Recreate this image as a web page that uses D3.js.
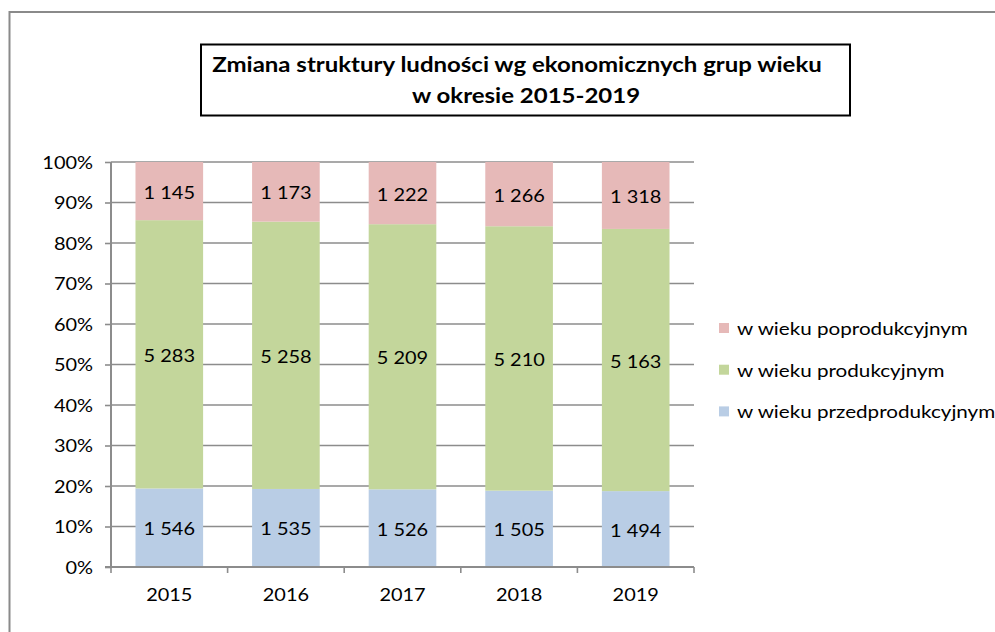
<!DOCTYPE html>
<html>
<head>
<meta charset="utf-8">
<script src="https://cdn.jsdelivr.net/npm/d3@7"></script>
<style>
  html, body { margin: 0; padding: 0; background: #fff; }
  svg { display: block; }
  text { font-family: Lato, "Open Sans", sans-serif; fill: #000; }
</style>
</head>
<body>
<svg id="chart" width="995" height="632"></svg>
<script>
const years = ["2015", "2016", "2017", "2018", "2019"];
const seriesNames = ["w wieku przedprodukcyjnym", "w wieku produkcyjnym", "w wieku poprodukcyjnym"];
const przedprodukcyjny = [1546, 1535, 1526, 1505, 1494];
const produkcyjny = [5283, 5258, 5209, 5210, 5163];
const poprodukcyjny = [1145, 1173, 1222, 1266, 1318];
const seriesColors = ["#B9CDE5", "#C3D69B", "#E6B9B8"];
const yTicks = [0, 0.1, 0.2, 0.3, 0.4, 0.5, 0.6, 0.7, 0.8, 0.9, 1.0];
const titleLines = ["Zmiana struktury ludności wg ekonomicznych grup wieku", "w okresie 2015-2019"];

(function () {
const svg = d3.select("#chart");
const fmt = v => d3.format(",")(v).replace(/,/g, " ");

// text helper: horizontally widened Lato to mimic the reference rendering
function addText(parent, x, y, str, opt) {
  const o = Object.assign({ size: 17.5, weight: "normal", anchor: "start", sx: 1.14 }, opt || {});
  return parent.append("text")
    .attr("transform", `translate(${x},${y}) scale(${o.sx},1)`)
    .attr("text-anchor", o.anchor)
    .attr("font-size", o.size)
    .attr("font-weight", o.weight)
    .text(str);
}

// outer frame
svg.append("rect").attr("x", 9.5).attr("y", 12).attr("width", 1100).attr("height", 700)
  .attr("fill", "none").attr("stroke", "#8a8a8a").attr("stroke-width", 2);

// title
svg.append("rect").attr("x", 201).attr("y", 44.5).attr("width", 649).attr("height", 71)
  .attr("fill", "#fff").attr("stroke", "#000").attr("stroke-width", 2);
addText(svg, 517, 72, titleLines[0], { size: 20, weight: "bold", anchor: "middle", sx: 1.2 });
addText(svg, 526, 103, titleLines[1], { size: 20, weight: "bold", anchor: "middle", sx: 1.2 });

const pLeft = 111, pRight = 694, pTop = 162, pBottom = 567;
const x = d3.scaleBand().domain(years).range([pLeft, pRight]).paddingInner(0.42).paddingOuter(0.21);
const y = d3.scaleLinear().domain([0, 1]).range([pBottom, pTop]);

// gridlines
svg.append("g").selectAll("line").data(yTicks.slice(1)).join("line")
  .attr("x1", pLeft).attr("x2", pRight)
  .attr("y1", d => y(d)).attr("y2", d => y(d))
  .attr("stroke", "#8c8c8c").attr("stroke-width", 1.6);

// stacked data
const table = years.map((yr, i) => ({ year: yr, a: przedprodukcyjny[i], b: produkcyjny[i], c: poprodukcyjny[i] }));
const stack = d3.stack().keys(["a", "b", "c"]).offset(d3.stackOffsetExpand);
const layers = stack(table);

const g = svg.append("g");
layers.forEach((layer, li) => {
  g.append("g").selectAll("rect").data(layer).join("rect")
    .attr("x", d => x(d.data.year))
    .attr("width", x.bandwidth())
    .attr("y", d => y(d[1]))
    .attr("height", d => y(d[0]) - y(d[1]))
    .attr("fill", seriesColors[li]);
  const lblG = g.append("g");
  layer.forEach(d => {
    addText(lblG, x(d.data.year) + x.bandwidth() / 2, (y(d[0]) + y(d[1])) / 2 + 7.5,
      fmt(d.data[layer.key]), { anchor: "middle" });
  });
});

// y axis (line + ticks via d3 axis, labels drawn with helper)
const yAxis = d3.axisLeft(y).tickValues(yTicks).tickFormat("").tickSize(6);
const ya = svg.append("g").attr("transform", `translate(${pLeft},0)`).call(yAxis);
ya.select(".domain").attr("stroke", "#8c8c8c").attr("stroke-width", 2).attr("d", `M0,${pTop}V${pBottom}`);
ya.selectAll(".tick line").attr("stroke", "#8c8c8c").attr("stroke-width", 1.6);
const ylab = svg.append("g");
yTicks.forEach(t => addText(ylab, 93, y(t) + 6.8, d3.format(".0%")(t), { anchor: "end" }));

// x axis
const xa = svg.append("g").attr("transform", `translate(0,${pBottom})`);
xa.append("line").attr("x1", pLeft - 6).attr("x2", pRight).attr("y1", 0).attr("y2", 0)
  .attr("stroke", "#8c8c8c").attr("stroke-width", 2);
const step = x.step();
const bounds = d3.range(years.length + 1).map(k => pLeft + k * step);
xa.selectAll("line.tk").data(bounds).join("line").attr("class", "tk")
  .attr("x1", d => d).attr("x2", d => d).attr("y1", 0).attr("y2", 6)
  .attr("stroke", "#8c8c8c").attr("stroke-width", 1.6);
years.forEach(yr => addText(xa, x(yr) + x.bandwidth() / 2, 34, yr, { anchor: "middle" }));

// legend
const legendOrder = [2, 1, 0];
const lg = svg.append("g");
legendOrder.forEach((si, i) => {
  const cy = 328 + i * 41.7;
  lg.append("rect").attr("x", 719).attr("y", cy - 5).attr("width", 10).attr("height", 10).attr("fill", seriesColors[si]);
  addText(lg, 737, cy + 7, seriesNames[si], { size: 17.5, sx: 1.18 });
});
})();
</script>
</body>
</html>
